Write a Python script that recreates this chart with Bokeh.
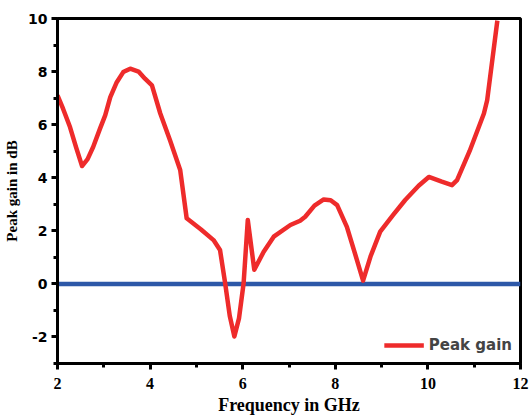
from bokeh.plotting import figure
from bokeh.models import SingleIntervalTicker, Range1d, Legend, LegendItem, CustomJSTickFormatter
from bokeh.embed import file_html
from bokeh.resources import INLINE

freq = [2.0, 2.12, 2.27, 2.4, 2.53, 2.65, 2.77, 2.92, 3.03, 3.14, 3.28, 3.42, 3.57, 3.75, 3.89,
        4.04, 4.22, 4.43, 4.65, 4.79,
        5.1, 5.37, 5.51, 5.62, 5.72, 5.82, 5.92, 6.02, 6.11, 6.25, 6.45, 6.67, 7.03, 7.24, 7.35,
        7.55, 7.75, 7.9, 8.04, 8.25, 8.45, 8.6, 8.76, 8.97, 9.25, 9.51, 9.8, 10.02, 10.3, 10.52,
        10.63, 10.9, 11.21, 11.28, 11.5]
gain = [7.1, 6.6, 5.91, 5.15, 4.44, 4.7, 5.16, 5.86, 6.35, 7.04, 7.6, 7.98, 8.11, 8.0, 7.73,
        7.48, 6.42, 5.41, 4.29, 2.47,
        2.05, 1.65, 1.28, 0.04, -1.2, -1.98, -1.3, 0.03, 2.41, 0.53, 1.2, 1.78, 2.22, 2.38, 2.53,
        2.95, 3.18, 3.15, 2.97, 2.15, 1.0, 0.12, 1.03, 1.97, 2.6, 3.16, 3.7, 4.03, 3.85, 3.72,
        3.91, 5.0, 6.42, 6.92, 9.92]
zero_x = [2, 12]
zero_y = [0, 0]

p = figure(width=529, height=417, output_backend="svg", toolbar_location=None,
           x_range=Range1d(2, 12), y_range=Range1d(-3, 10))
p.min_border_left = 57
p.min_border_top = 18
p.min_border_right = 9
p.min_border_bottom = 53
p.background_fill_color = "white"
p.border_fill_color = "white"
p.grid.visible = False
p.outline_line_color = "black"
p.outline_line_width = 3

fmt = CustomJSTickFormatter(code="return tick.toFixed(0);")
p.xaxis.ticker = SingleIntervalTicker(interval=2, num_minor_ticks=2)
p.yaxis.ticker = SingleIntervalTicker(interval=2, num_minor_ticks=2)
for ax in (p.xaxis[0], p.yaxis[0]):
    ax.formatter = fmt
    ax.axis_line_width = 3
    ax.axis_line_color = "black"
    ax.major_tick_line_width = 3
    ax.major_tick_line_color = "black"
    ax.minor_tick_line_width = 3
    ax.minor_tick_line_color = "black"
    ax.major_tick_in = 0
    ax.major_tick_out = 6
    ax.minor_tick_in = 0
    ax.minor_tick_out = 4
    ax.major_label_text_font_style = "bold"
    ax.axis_label_text_font = "Liberation Serif"
    ax.axis_label_text_font_style = "bold"
    ax.axis_label_text_color = "black"
    ax.major_label_text_color = "black"

p.xaxis.axis_label_text_font_size = "18px"
p.yaxis.axis_label_text_font_size = "15px"
p.xaxis.major_label_text_font = "Liberation Serif"
p.xaxis.major_label_text_font_size = "16px"
p.xaxis.major_label_standoff = 8
p.yaxis.major_label_text_font = "DejaVu Sans"
p.yaxis.major_label_text_font_size = "14px"
p.yaxis.major_label_standoff = 4
p.xaxis.axis_label = "Frequency in GHz"
p.yaxis.axis_label = "Peak gain in dB"
p.xaxis.axis_label_standoff = 3
p.yaxis.axis_label_standoff = 5

p.line(zero_x, zero_y, line_color="#2d58a8", line_width=4.5)
r = p.line(freq, gain, line_color="#ee2b2b", line_width=4.5, line_join="round")

legend = Legend(items=[LegendItem(label="Peak gain", renderers=[r])],
                location="bottom_right", background_fill_alpha=0, border_line_alpha=0,
                label_text_font="DejaVu Sans", label_text_font_style="bold",
                label_text_font_size="15px", glyph_width=40, margin=4, padding=4)
p.add_layout(legend)

open("out.html", "w").write(file_html(p, INLINE))
